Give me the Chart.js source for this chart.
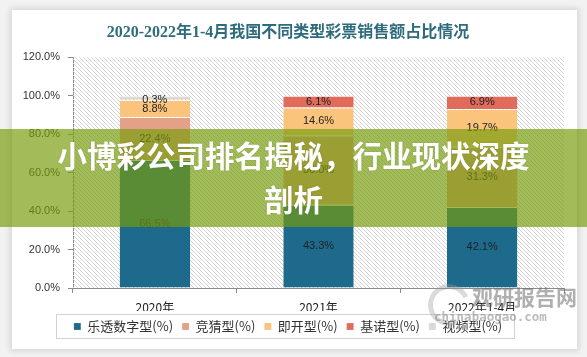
<!DOCTYPE html>
<html><head><meta charset="utf-8">
<script src="https://cdn.jsdelivr.net/npm/chart.js@4.4.1/dist/chart.umd.min.js"></script>
<style>
html,body{margin:0;padding:0;width:587px;height:357px;overflow:hidden;background:#f2f2f2;}
#card{position:absolute;left:12px;top:10px;width:565px;height:339px;background:#fff;box-shadow:0 0 6px 2px rgba(0,0,0,0.12);}
#c{position:absolute;left:0;top:0;}
#wm1{position:absolute;left:472px;top:286px;font:700 21px 'Noto Sans CJK SC';color:rgba(110,110,110,0.55);line-height:1;white-space:nowrap;}
#wm2{position:absolute;left:434px;top:311px;font:700 12.5px 'DejaVu Sans Mono';color:rgba(120,120,120,0.5);line-height:1;white-space:nowrap;}
#logo{position:absolute;left:428px;top:284px;width:32px;height:32px;border-radius:50%;border:5px solid rgba(150,150,150,0.35);border-right-color:transparent;transform:rotate(20deg);}
#band{position:absolute;left:0;top:129px;width:587px;height:98px;background:rgba(120,156,12,0.68);}
.bt{position:absolute;left:0;width:587px;text-align:center;color:#fff;font:700 29.5px 'Noto Sans CJK SC';line-height:1;white-space:nowrap;text-shadow:0 0 2px rgba(0,0,0,0.15);}
</style>
</head><body>
<div id="card"><canvas id="c" width="565" height="339"></canvas></div>
<div id="logo"></div>
<div id="wm1">观研报告网</div>
<div id="wm2">chinabaogao.com</div>
<div id="band">
  <div class="bt" style="top:11px">小博彩公司排名揭秘，行业现状深度</div>
  <div class="bt" style="top:55px">剖析</div>
</div>
<script>
const chartTitle = '2020-2022年1-4月我国不同类型彩票销售额占比情况';
const categories = ['2020年', '2021年', '2022年1-4月'];
const seriesNames = ['乐透数字型(%)', '竞猜型(%)', '即开型(%)', '基诺型(%)', '视频型(%)'];
const lottoShare   = [66.5, 43.3, 42.1];
const quizShare    = [22.4, 36.0, 31.3];
const instantShare = [8.8, 14.6, 19.7];
const kenoShare    = [0.3, 6.1, 6.9];
const videoShare   = [1.9, 0, 0];
const seriesColors = ['#1e6a8c', '#e3a287', '#fbc47c', '#e06b5b', '#dadad2'];
const yMax = 120, yStep = 20;

const seriesData = [lottoShare, quizShare, instantShare, kenoShare, videoShare];
const showLabels = [true, true, true, true, false];

const hatchTile = (() => {
  const p = document.createElement('canvas'); p.width = 4; p.height = 4;
  const g = p.getContext('2d'); g.strokeStyle = '#d4d4d4'; g.lineWidth = 1;
  g.beginPath(); g.moveTo(0, 0); g.lineTo(4, 4); g.moveTo(-1, 3); g.lineTo(1, 5); g.moveTo(3, -1); g.lineTo(5, 1); g.stroke();
  return p;
})();

const hatchPlugin = {
  id: 'hatch',
  beforeDatasetsDraw(chart) {
    const {ctx, chartArea: a} = chart;
    ctx.save();
    ctx.fillStyle = ctx.createPattern(hatchTile, 'repeat');
    ctx.fillRect(a.left, a.top, a.right - a.left, a.bottom - a.top);
    ctx.restore();
  }
};

const labelPlugin = {
  id: 'segLabels',
  afterDatasetsDraw(chart) {
    const c = chart.ctx;
    c.save();
    c.font = '11px "Liberation Sans"';
    c.fillStyle = '#222';
    c.textAlign = 'center';
    c.textBaseline = 'middle';
    chart.data.datasets.forEach((ds, i) => {
      if (!showLabels[i]) return;
      const meta = chart.getDatasetMeta(i);
      meta.data.forEach((el, j) => {
        const v = ds.data[j];
        if (!v) return;
        const p = el.getProps(['x', 'y', 'base'], true);
        c.fillText(v.toFixed(1) + '%', p.x, (p.y + p.base) / 2);
      });
    });
    c.restore();
  }
};

const legendBoxPlugin = {
  id: 'legendBox',
  afterDraw(chart) {
    const hb = chart.legend && chart.legend.legendHitBoxes;
    if (!hb || !hb.length) return;
    const first = hb[0], last = hb[hb.length - 1];
    const c = chart.ctx;
    c.save();
    c.strokeStyle = '#d2d2d2'; c.lineWidth = 1;
    const l = Math.round(first.left - 18) + 0.5, r = Math.round(last.left + last.width + 12) + 0.5;
    const t = Math.round(first.top - 6) + 0.5, b = Math.round(first.top + first.height + 5) + 0.5;
    c.strokeRect(l, t, r - l, b - t);
    c.restore();
  }
};

Chart.defaults.font.family = "'Noto Sans CJK SC', 'Liberation Sans', sans-serif";

new Chart(document.getElementById('c'), {
  type: 'bar',
  data: {
    labels: categories,
    datasets: seriesNames.map((n, i) => ({
      label: n,
      data: seriesData[i],
      backgroundColor: seriesColors[i],
      borderColor: 'rgba(255,255,255,0.6)',
      borderWidth: {top: 1, left: 0, right: 0, bottom: 0},
      borderSkipped: false,
      categoryPercentage: 1,
      barPercentage: 0.43
    }))
  },
  options: {
    responsive: false,
    animation: false,
    devicePixelRatio: 1,
    layout: {padding: {left: 0, right: 13, top: 0, bottom: 6}},
    plugins: {
      title: {
        display: true, text: chartTitle, color: '#2e6c7d',
        font: {size: 16, weight: 'bold', family: "'Liberation Serif', 'Noto Sans CJK SC', serif"},
        padding: {top: 13, bottom: 15}
      },
      legend: {
        position: 'bottom',
        labels: {boxWidth: 7, boxHeight: 7, padding: 9, color: '#333', font: {size: 13}}
      },
      tooltip: {enabled: false}
    },
    scales: {
      x: {
        stacked: true,
        ticks: {color: '#222', font: {size: 12}, padding: 7, maxRotation: 0},
        grid: {offset: true, drawOnChartArea: false, tickLength: 5, color: '#8c8c8c'},
        border: {color: '#8c8c8c'},
        afterFit(s) { s.height = 23; }
      },
      y: {
        stacked: true, min: 0, max: yMax,
        ticks: {stepSize: yStep, callback: v => v.toFixed(1) + '%', color: '#333', font: {size: 11, family: 'Liberation Sans'}, padding: 8},
        grid: {drawOnChartArea: false, tickLength: 5, color: '#8c8c8c'},
        border: {color: '#8c8c8c'},
        afterFit(s) { s.width = 61; }
      }
    }
  },
  plugins: [hatchPlugin, labelPlugin, legendBoxPlugin]
});
</script>
</body></html>
